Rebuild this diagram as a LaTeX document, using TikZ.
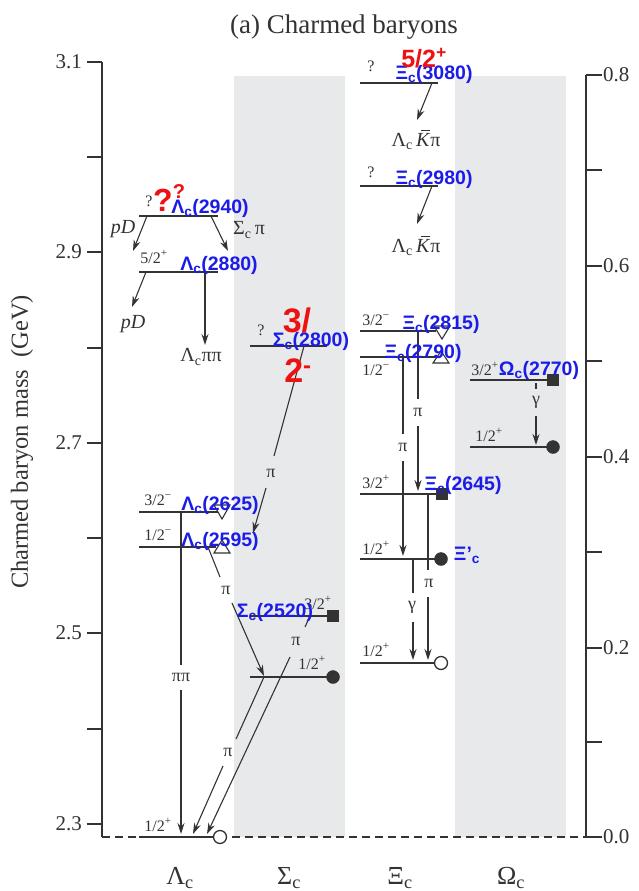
\documentclass[tikz,border=0pt]{standalone}
\usepackage{fontspec}
\setmainfont{Liberation Serif}
\newfontfamily\labfont{Liberation Sans}
\usetikzlibrary{arrows.meta}
\definecolor{band}{HTML}{E8E9EB}
\definecolor{ink}{HTML}{333333}
\definecolor{labblue}{HTML}{1C1CE8}
\definecolor{labred}{HTML}{EE1111}
\newcommand{\fsz}[1]{\fontsize{#1}{#1}\selectfont}
\newcommand{\Kbar}{\textit{K}\llap{\rule[0.78em]{0.45em}{0.06em}\hspace{0.04em}}}
\tikzset{
  level/.style={draw=ink, line width=2.3pt},
  dec/.style={draw=ink, line width=1.1pt, -{Stealth[length=11pt,width=7pt]}},
  seg/.style={draw=ink, line width=1.1pt},
  axis/.style={draw=ink, line width=1.3pt},
  spin/.style={text=ink, font=\fsz{16}, inner sep=0pt},
  dlab/.style={text=ink, font=\fsz{20}, inner sep=0pt},
  plab/.style={text=ink, font=\fsz{18}, inner sep=0pt},
  blab/.style={text=labblue, font=\labfont\bfseries\fsz{19.5}, inner sep=0pt},
  rlab/.style={text=labred, font=\labfont\bfseries\fsz{32}, inner sep=0pt},
  ticklab/.style={text=ink, font=\fsz{21}, inner sep=0pt},
  tri/.style={draw=ink, line width=1.1pt, fill=white},
  fdot/.style={fill=ink, draw=ink},
  odot/.style={fill=white, draw=ink, line width=1.3pt},
}
\begin{document}
\begin{tikzpicture}[x=1pt,y=-1pt]
\useasboundingbox (0,0) rectangle (638,891);
\fill[white] (0,0) rectangle (638,891);
% bands
\fill[band] (234,76) rectangle (345,837);
\fill[band] (455,76) rectangle (566,837);
% title and axis labels
\node[text=ink, font=\fsz{27}, inner sep=0pt] (title) at (344,27) {(a) Charmed baryons};
\node[text=ink, font=\fsz{24.5}, inner sep=0pt, rotate=90] (ylab) at (22,442) {Charmed baryon mass\ \ (GeV)};
% left axis
\coordinate (lat) at (102,62);
\coordinate (lab) at (102,837);
\draw[axis] (lat) -- (lab);
\foreach \y in {62,157,252,348,443,538,633,729,824} \draw[axis] (87,\y) -- (102,\y);
\node[ticklab, anchor=east] (t31) at (82,62) {3.1};
\node[ticklab, anchor=east] (t29) at (82,252) {2.9};
\node[ticklab, anchor=east] (t27) at (82,443) {2.7};
\node[ticklab, anchor=east] (t25) at (82,633) {2.5};
\node[ticklab, anchor=east] (t23) at (82,824) {2.3};
% right axis
\coordinate (rat) at (586,75);
\coordinate (rab) at (586,837);
\draw[axis] (rat) -- (rab);
\foreach \y in {75,170,266,361,457,552,648,742,837} \draw[axis] (586,\y) -- (602,\y);
\node[ticklab, anchor=west] (r8) at (603,75) {0.8};
\node[ticklab, anchor=west] (r6) at (603,266) {0.6};
\node[ticklab, anchor=west] (r4) at (603,457) {0.4};
\node[ticklab, anchor=west] (r2) at (603,648) {0.2};
\node[ticklab, anchor=west] (r0) at (603,837) {0.0};
\draw[ink, line width=1.2pt, dash pattern=on 8pt off 5pt] (lab) -- (rab);
% bottom labels
\node[text=ink, font=\fsz{26}, inner sep=0pt] (bL) at (180,878) {Λ\textsubscript{c}};
\node[text=ink, font=\fsz{26}, inner sep=0pt] (bS) at (289,878) {Σ\textsubscript{c}};
\node[text=ink, font=\fsz{26}, inner sep=0pt] (bX) at (400,878) {Ξ\textsubscript{c}};
\node[text=ink, font=\fsz{26}, inner sep=0pt] (bO) at (511,878) {Ω\textsubscript{c}};

% ---------------- markers (drawn below labels)
\draw[tri] (214,505) -- (230,505) -- (222,519) -- cycle;
\draw[tri] (214,553) -- (230,553) -- (222,540) -- cycle;
\draw[tri] (434,326) -- (450,326) -- (442,339) -- cycle;
\draw[tri] (433,363) -- (449,363) -- (441,351) -- cycle;

% ---------------- Lambda_c levels
\coordinate (La1) at (139,216); \coordinate (La2) at (218,216);
\coordinate (Lb1) at (139,272); \coordinate (Lb2) at (218,272);
\coordinate (Lc1) at (139,512); \coordinate (Lc2) at (218,512);
\coordinate (Ld1) at (139,547); \coordinate (Ld2) at (216,547);
\coordinate (Le1) at (139,837); \coordinate (Le2) at (214,837);
\draw[level] (La1) -- (La2);
\draw[level] (Lb1) -- (Lb2);
\draw[level] (Lc1) -- (Lc2);
\draw[level] (Ld1) -- (Ld2);
\draw[level] (Le1) -- (Le2);
\node[odot, circle, minimum size=13pt, inner sep=0pt] (Lground) at (220,837) {};

% ---------------- Sigma_c levels
\coordinate (Sa1) at (250,346); \coordinate (Sa2) at (327,346);
\coordinate (Sb1) at (250,616); \coordinate (Sb2) at (329,616);
\coordinate (Sc1) at (250,677); \coordinate (Sc2) at (329,677);
\draw[level] (Sa1) -- (Sa2);
\draw[level] (Sb1) -- (Sb2);
\draw[level] (Sc1) -- (Sc2);
\node[fdot, rectangle, minimum size=11pt, inner sep=0pt] (Ssq) at (333,616) {};
\node[fdot, circle, minimum size=13pt, inner sep=0pt] (Sdot) at (333,677) {};

% ---------------- Xi_c levels
\coordinate (Xa1) at (360,83); \coordinate (Xa2) at (438,83);
\coordinate (Xb1) at (360,186); \coordinate (Xb2) at (438,186);
\coordinate (Xc1) at (360,331); \coordinate (Xc2) at (436,331);
\coordinate (Xd1) at (360,357); \coordinate (Xd2) at (436,357);
\coordinate (Xe1) at (360,494); \coordinate (Xe2) at (440,494);
\coordinate (Xf1) at (360,559); \coordinate (Xf2) at (436,559);
\coordinate (Xg1) at (360,663); \coordinate (Xg2) at (435,663);
\draw[level] (Xa1) -- (Xa2);
\draw[level] (Xb1) -- (Xb2);
\draw[level] (Xc1) -- (Xc2);
\draw[level] (Xd1) -- (Xd2);
\draw[level] (Xe1) -- (Xe2);
\draw[level] (Xf1) -- (Xf2);
\draw[level] (Xg1) -- (Xg2);
\node[fdot, rectangle, minimum size=11pt, inner sep=0pt] (Xsq) at (442,494) {};
\node[fdot, circle, minimum size=13pt, inner sep=0pt] (Xdot) at (441,559) {};
\node[odot, circle, minimum size=13pt, inner sep=0pt] (Xo) at (441,663) {};

% ---------------- Omega_c levels
\coordinate (Oa1) at (470,380); \coordinate (Oa2) at (550,380);
\coordinate (Ob1) at (470,447); \coordinate (Ob2) at (548,447);
\draw[level] (Oa1) -- (Oa2);
\draw[level] (Ob1) -- (Ob2);
\node[fdot, rectangle, minimum size=11pt, inner sep=0pt] (Osq) at (553,380) {};
\node[fdot, circle, minimum size=13pt, inner sep=0pt] (Odot) at (553,447) {};

% ---------------- spin labels
\node[spin] (s1) at (149,201) {?};
\node[spin] (s2) at (154,257) {5/2\textsuperscript{+}};
\node[spin] (s3) at (158,500) {3/2\textsuperscript{−}};
\node[spin] (s4) at (158,535) {1/2\textsuperscript{−}};
\node[spin] (s5) at (158,825) {1/2\textsuperscript{+}};
\node[spin] (s6) at (261,330) {?};
\node[spin] (s7) at (318,603) {3/2\textsuperscript{+}};
\node[spin] (s8) at (312,663) {1/2\textsuperscript{+}};
\node[spin] (s9) at (371,66) {?};
\node[spin] (s10) at (371,172) {?};
\node[spin] (s11) at (376,320) {3/2\textsuperscript{−}};
\node[spin] (s12) at (376,370) {1/2\textsuperscript{−}};
\node[spin] (s13) at (376,482) {3/2\textsuperscript{+}};
\node[spin] (s14) at (376,548) {1/2\textsuperscript{+}};
\node[spin] (s15) at (376,650) {1/2\textsuperscript{+}};
\node[spin] (s16) at (485,369) {3/2\textsuperscript{+}};
\node[spin] (s17) at (489,435) {1/2\textsuperscript{+}};

% ---------------- decay labels
\node[dlab, font=\itshape\fsz{20}] (pD1) at (123,229) {pD};
\node[dlab] (Spi) at (249,230) {Σ\textsubscript{c}\,π};
\node[dlab, font=\itshape\fsz{20}] (pD2) at (133,324) {pD};
\node[dlab] (Lpp) at (201,357) {Λ\textsubscript{c}ππ};
\node[dlab] (LKp1) at (416,140) {Λ\textsubscript{c}\,\Kbar π};
\node[dlab] (LKp2) at (416,246) {Λ\textsubscript{c}\,\Kbar π};

% ---------------- decays Lambda_c
\coordinate (a1s) at (147,216); \coordinate (a1e) at (133,251);
\draw[dec] (a1s) -- (a1e);
\coordinate (a2s) at (211,216); \coordinate (a2e) at (228,251);
\draw[dec] (a2s) -- (a2e);
\coordinate (a3s) at (146,272); \coordinate (a3e) at (132,307);
\draw[dec] (a3s) -- (a3e);
\coordinate (a4s) at (205,272); \coordinate (a4e) at (205,345);
\draw[dec] (a4s) -- (a4e);
% Sigma_c(2800) -> pi
\coordinate (a5s) at (304,346); \coordinate (a5m) at (274,456);
\coordinate (a5n) at (266,488); \coordinate (a5e) at (253,533);
\node[plab] (pi5) at (271,473) {π};
\draw[seg] (a5s) -- (a5m);
\draw[dec] (a5n) -- (a5e);
% pi pi
\coordinate (a6s) at (181,512); \coordinate (a6m) at (181,665);
\coordinate (a6n) at (181,690); \coordinate (a6e) at (181,834);
\node[plab] (pipi) at (181,677) {ππ};
\draw[seg] (a6s) -- (a6m);
\draw[dec] (a6n) -- (a6e);
% Lambda_c(2595) -> Sigma_c pi
\coordinate (a7s) at (208,547); \coordinate (a7m) at (220,577);
\coordinate (a7n) at (232,603); \coordinate (a7e) at (264,676);
\node[plab] (pi7) at (226,590) {π};
\draw[seg] (a7s) -- (a7m);
\draw[dec] (a7n) -- (a7e);
% Sigma_c(2455) -> Lambda_c pi
\coordinate (a8s) at (264,677); \coordinate (a8m) at (236,739);
\coordinate (a8n) at (223,766); \coordinate (a8e) at (193,834);
\node[plab] (pi8) at (228,752) {π};
\draw[seg] (a8s) -- (a8m);
\draw[dec] (a8n) -- (a8e);
% Sigma_c(2520) -> Lambda_c pi
\coordinate (a9s) at (310,616); \coordinate (a9m) at (305,627);
\coordinate (a9n) at (290,657); \coordinate (a9e) at (207,834);
\node[plab] (pi9) at (296,641) {π};
\draw[seg] (a9s) -- (a9m);
\draw[dec] (a9n) -- (a9e);

% ---------------- decays Xi_c
\coordinate (b1s) at (432,83); \coordinate (b1e) at (417,120);
\draw[dec] (b1s) -- (b1e);
\coordinate (b2s) at (432,186); \coordinate (b2e) at (417,224);
\draw[dec] (b2s) -- (b2e);
\coordinate (b3s) at (418,331); \coordinate (b3m) at (418,399);
\coordinate (b3n) at (418,426); \coordinate (b3e) at (418,491);
\node[plab] (pib3) at (418,412) {π};
\draw[seg] (b3s) -- (b3m);
\draw[dec] (b3n) -- (b3e);
\coordinate (b4s) at (403,357); \coordinate (b4m) at (403,434);
\coordinate (b4n) at (403,461); \coordinate (b4e) at (403,556);
\node[plab] (pib4) at (403,447) {π};
\draw[seg] (b4s) -- (b4m);
\draw[dec] (b4n) -- (b4e);
\coordinate (b5s) at (428,494); \coordinate (b5m) at (428,570);
\coordinate (b5n) at (428,597); \coordinate (b5e) at (428,660);
\node[plab] (pib5) at (429,583) {π};
\draw[seg] (b5s) -- (b5m);
\draw[dec] (b5n) -- (b5e);
\coordinate (b6s) at (413,559); \coordinate (b6m) at (413,593);
\coordinate (b6n) at (413,622); \coordinate (b6e) at (413,660);
\node[plab] (gb6) at (412,607) {γ};
\draw[seg] (b6s) -- (b6m);
\draw[dec] (b6n) -- (b6e);
% Omega_c gamma
\coordinate (c1s) at (536,383); \coordinate (c1m) at (536,389);
\coordinate (c1n) at (536,416); \coordinate (c1e) at (536,445);
\node[plab] (gc1) at (536,402) {γ};
\draw[seg] (c1s) -- (c1m);
\draw[dec] (c1n) -- (c1e);

% ---------------- blue labels
\node[blab] (nL2940) at (210,208) {Λ\textsubscript{c}(2940)};
\node[blab] (nL2880) at (219,265) {Λ\textsubscript{c}(2880)};
\node[blab] (nL2625) at (220,505) {Λ\textsubscript{c}(2625)};
\node[blab] (nL2595) at (220,541) {Λ\textsubscript{c}(2595)};
\node[blab] (nS2800) at (311,341) {Σ\textsubscript{c}(2800)};
\node[blab] (nS2520) at (275,612) {Σ\textsubscript{c}(2520)};
\node[blab] (nX3080) at (434,74) {Ξ\textsubscript{c}(3080)};
\node[blab] (nX2980) at (434,179) {Ξ\textsubscript{c}(2980)};
\node[blab] (nX2815) at (441,324) {Ξ\textsubscript{c}(2815)};
\node[blab] (nX2790) at (423,353) {Ξ\textsubscript{c}(2790)};
\node[blab] (nX2645) at (463,485) {Ξ\textsubscript{c}(2645)};
\node[blab] (nXp) at (467,555) {Ξ’\textsubscript{c}};
\node[blab] (nO2770) at (539,370) {Ω\textsubscript{c}(2770)};

% ---------------- red labels
\node[rlab] (q1) at (163,200) {?};
\node[rlab, font=\labfont\bfseries\fsz{20}] (q2) at (179,192) {?};
\node[rlab, font=\labfont\bfseries\fsz{25}] (r52) at (424,58) {5/2\textsuperscript{+}};
\node[rlab, font=\labfont\bfseries\fsz{34}] (r3) at (297,321) {3/};
\node[rlab, font=\labfont\bfseries\fsz{34}] (r2) at (298,371) {2\textsuperscript{-}};
\end{tikzpicture}
\end{document}
